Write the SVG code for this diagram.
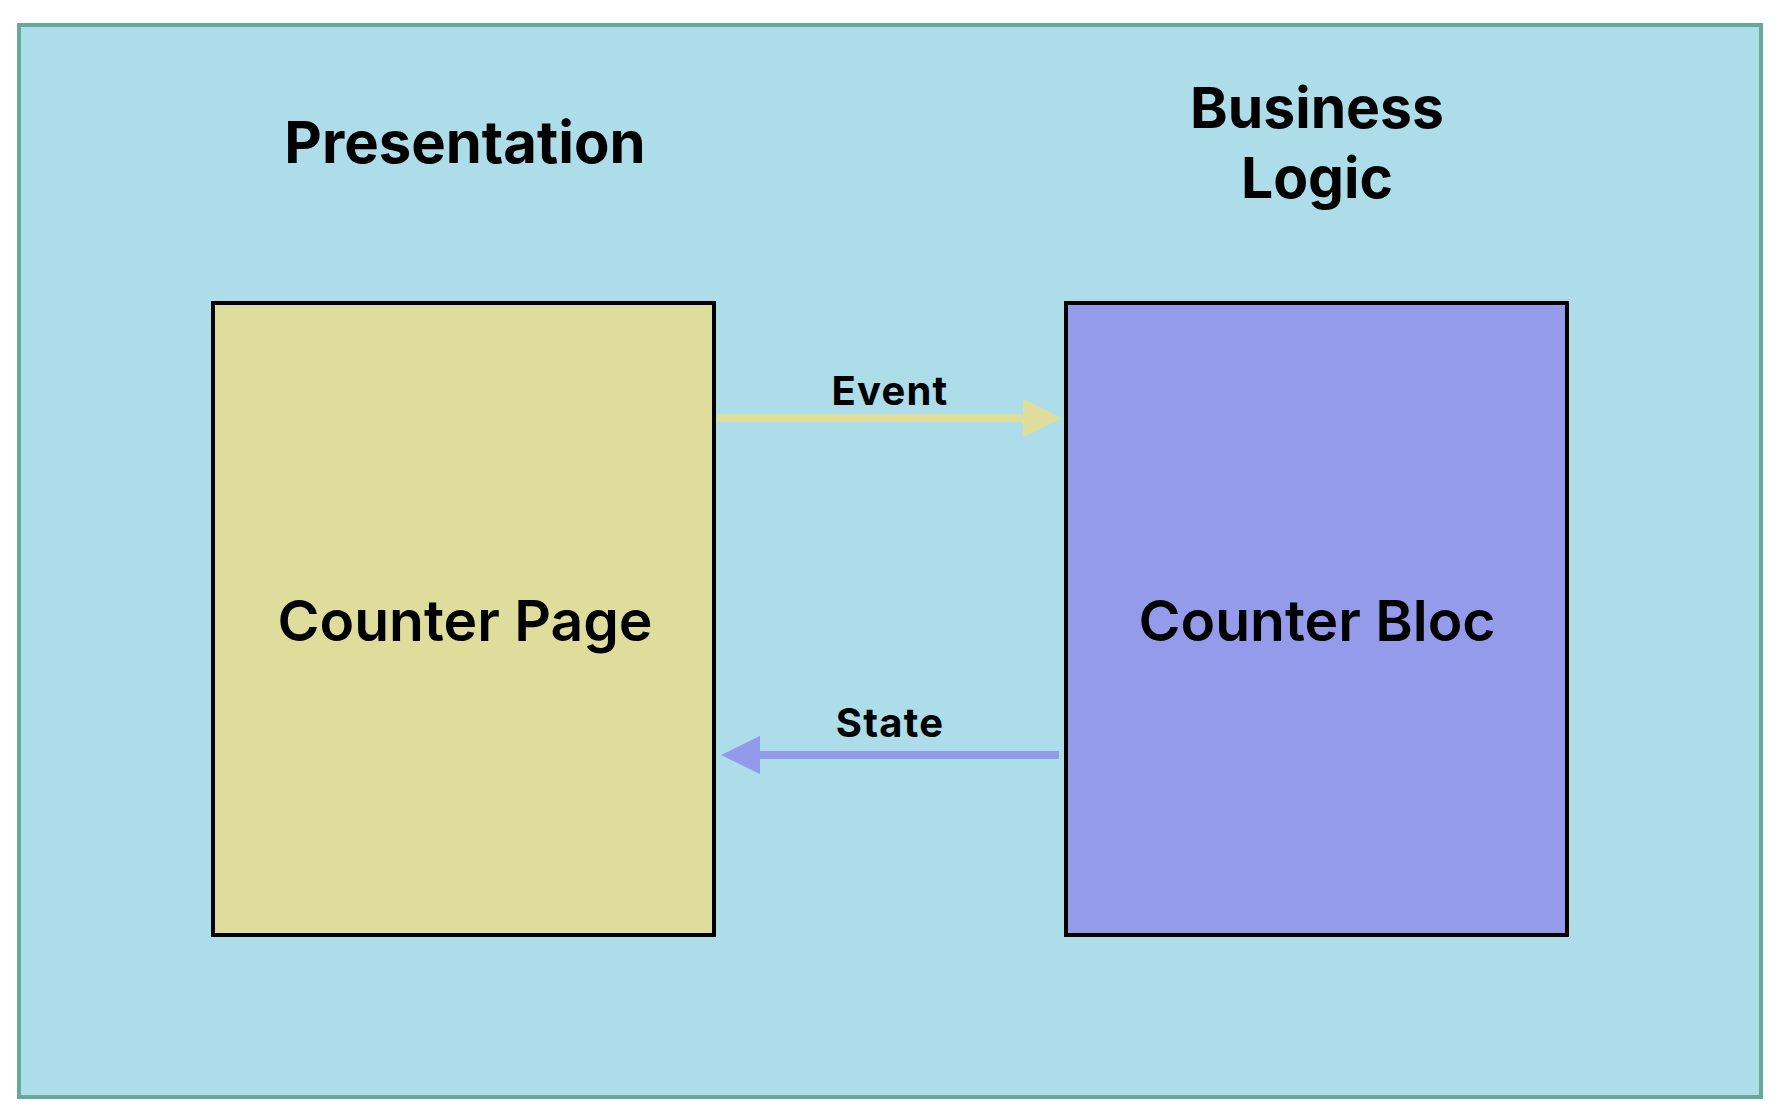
<svg xmlns="http://www.w3.org/2000/svg" width="1782" height="1118" viewBox="0 0 1782 1118">
  <style>
    .title { font-family: Inter, "Liberation Sans", sans-serif; font-weight: 700; font-size: 57px; fill: #000; text-anchor: middle; }
    .node-label { font-family: Inter, "Liberation Sans", sans-serif; font-weight: 600; font-size: 57px; fill: #000; text-anchor: middle; }
    .edge-label { font-family: Inter, "Liberation Sans", sans-serif; font-weight: 700; font-size: 40px; fill: #000; text-anchor: middle; letter-spacing: 1.2px; }
    .node { stroke: #000; stroke-width: 4; }
    .edge { fill: none; stroke-width: 8; }
  </style>
  <defs>
    <marker id="arrow-event" markerUnits="userSpaceOnUse" markerWidth="40" markerHeight="40" viewBox="0 0 40 40" refX="0" refY="20" orient="auto">
      <path d="M0,1 L39,20 L0,39 Z" fill="#dedd9c"/>
    </marker>
    <marker id="arrow-state" markerUnits="userSpaceOnUse" markerWidth="40" markerHeight="40" viewBox="0 0 40 40" refX="0" refY="20" orient="auto">
      <path d="M0,1 L39,20 L0,39 Z" fill="#939aea"/>
    </marker>
  </defs>

  <g id="frame">
    <rect x="19" y="25" width="1742" height="1072" fill="#addde9" stroke="#66a89a" stroke-width="4"/>
    <text class="title" x="465" y="163" style="font-size:58px">Presentation</text>
    <text class="title" x="1317" y="128">Business</text>
    <text class="title" x="1317" y="198">Logic</text>
  </g>

  <g id="counter-page">
    <rect class="node" x="213" y="303" width="501" height="632" fill="#dedd9c"/>
    <text class="node-label" x="465" y="641">Counter Page</text>
  </g>

  <g id="counter-bloc">
    <rect class="node" x="1066" y="303" width="501" height="632" fill="#959beb"/>
    <text class="node-label" x="1317" y="641">Counter Bloc</text>
  </g>

  <g id="connectors">
    <line class="edge" x1="717" y1="418" x2="1023" y2="418" stroke="#dedd9c" marker-end="url(#arrow-event)"/>
    <text class="edge-label" x="890" y="405">Event</text>
    <line class="edge" x1="1059" y1="755" x2="760" y2="755" stroke="#939aea" marker-end="url(#arrow-state)"/>
    <text class="edge-label" x="890" y="737">State</text>
  </g>
</svg>
